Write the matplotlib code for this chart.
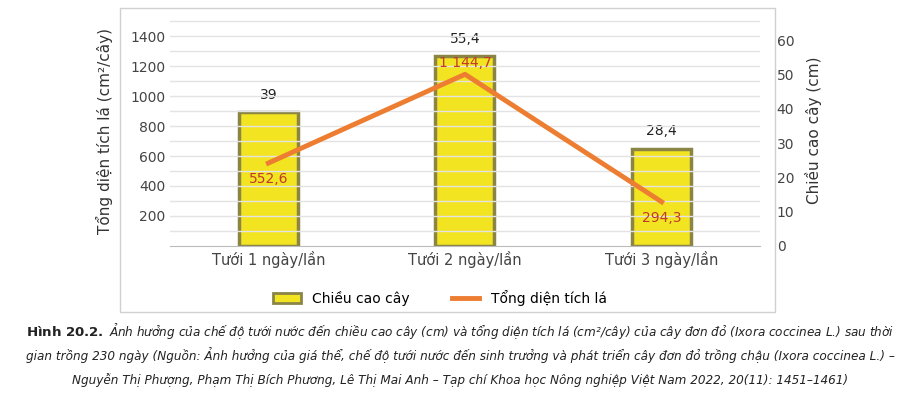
import matplotlib
matplotlib.use("Agg")
import matplotlib.pyplot as plt
from matplotlib.patches import Rectangle, Patch
from matplotlib.lines import Line2D

categories = ["Tưới 1 ngày/lần", "Tưới 2 ngày/lần", "Tưới 3 ngày/lần"]
chieu_cao = [39, 55.4, 28.4]
dien_tich = [552.6, 1144.7, 294.3]
chieu_cao_labels = ["39", "55,4", "28,4"]
dien_tich_labels = ["552,6", "1 144,7", "294,3"]
left_ticks = [200, 400, 600, 800, 1000, 1200, 1400]
right_ticks = [0, 10, 20, 30, 40, 50, 60]

fig = plt.figure(figsize=(9.2, 4.12), dpi=100)
fig.patches.append(Rectangle((120/920, 1-312/412), 655/920, 304/412, transform=fig.transFigure,
                             fill=False, edgecolor="#d0d0d0", lw=1))
ax = fig.add_axes([170/920, 1-246/412, 590/920, 231/412])
ax2 = ax.twinx()
ax.set_zorder(2); ax2.set_zorder(1); ax.patch.set_visible(False)

x = range(len(categories))
ax.set_ylim(0, 1540)
ax2.set_ylim(0, 67.3)
for v in range(100, 1501, 100):
    ax.axhline(v, color="#e3e3e3", lw=1, zorder=0)
ax2.bar(x, chieu_cao, width=0.3, color="#f3e422", edgecolor="#8a8545", lw=2.5, zorder=2)
for xi, v, lab in zip(x, chieu_cao, chieu_cao_labels):
    ax2.text(xi, v + 3, lab, ha="center", va="bottom", fontsize=10, color="#222")
ax.plot(list(x), dien_tich, color="#ed7d31", lw=3.5, zorder=3)
offs = [-60, 30, -60]
for xi, v, lab, o in zip(x, dien_tich, dien_tich_labels, offs):
    ax.text(xi, v + o, lab, ha="center", va="top" if o < 0 else "bottom", fontsize=10, color="#c0392b", zorder=4)

ax.set_xlim(-0.5, 2.5)
ax.set_xticks(list(x)); ax.set_xticklabels(categories, fontsize=10.5, color="#444")
ax.set_yticks(left_ticks); ax.set_yticklabels([str(t) for t in left_ticks], fontsize=10, color="#444")
ax2.set_yticks(right_ticks); ax2.set_yticklabels([str(t) for t in right_ticks], fontsize=10, color="#444")
for a in (ax, ax2):
    for s in a.spines.values():
        s.set_visible(False)
    a.tick_params(length=0)
ax2.tick_params(pad=12)
ax.spines["bottom"].set_visible(True); ax.spines["bottom"].set_color("#bbbbbb")
ax.set_ylabel("Tổng diện tích lá (cm²/cây)", fontsize=11, color="#333", labelpad=12)
ax2.set_ylabel("Chiều cao cây (cm)", fontsize=11, color="#333", labelpad=8)

fig.legend(handles=[Patch(facecolor="#f3e422", edgecolor="#8a8545", lw=2, label="Chiều cao cây"),
                    Line2D([], [], color="#ed7d31", lw=3.5, label="Tổng diện tích lá")],
           loc="center", bbox_to_anchor=(440/920, 1-298/412), ncol=2, frameon=False, fontsize=10,
           columnspacing=3)

cap = dict(fontsize=9.6, color="#222", ha="center", family="DejaVu Sans", fontstretch="condensed")
fig.text(0.5, 1-336/412, "$\\bf{Hình\\ 20.2.}$ " + "Ảnh hưởng của chế độ tưới nước đến chiều cao cây (cm) và tổng diện tích lá (cm²/cây) của cây đơn đỏ (Ixora coccinea L.) sau thời",
         style="italic", **cap)
fig.text(0.5, 1-360/412, "gian trồng 230 ngày (Nguồn: Ảnh hưởng của giá thể, chế độ tưới nước đến sinh trưởng và phát triển cây đơn đỏ trồng chậu (Ixora coccinea L.) –",
         style="italic", **cap)
fig.text(0.5, 1-384/412, "Nguyễn Thị Phượng, Phạm Thị Bích Phương, Lê Thị Mai Anh – Tạp chí Khoa học Nông nghiệp Việt Nam 2022, 20(11): 1451–1461)",
         style="italic", **cap)
fig.savefig("out.png", dpi=100)
